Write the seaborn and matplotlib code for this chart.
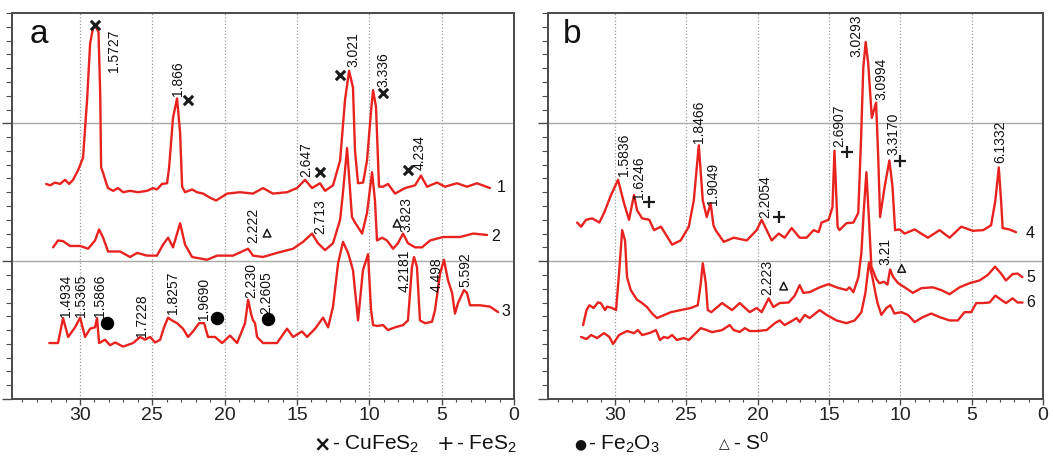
import matplotlib
matplotlib.use("Agg")
import matplotlib.pyplot as plt
import seaborn as sns
from matplotlib.ticker import MultipleLocator, NullFormatter

# ------------------------------------------------------------------ data
# panel a, pattern 1
a1_x = [32.34, 32.07, 31.72, 31.38, 31.03, 30.75, 30.48, 30.13, 29.79, 29.51, 29.3, 29.1,
        28.9, 28.72, 28.6, 28.54, 28.4, 28.2, 28.06, 27.71, 27.37, 27.02, 26.54, 25.99,
        25.37, 24.95, 24.68, 24.33, 23.98, 23.84, 23.57, 23.29, 23.08, 22.94, 22.74, 22.25,
        21.91, 21.49, 21.01, 20.59, 19.83, 18.94, 18.04, 17.35, 16.66, 15.69, 15.0, 14.44,
        13.96, 13.41, 13.06, 12.51, 12.02, 11.68, 11.4, 11.13, 10.99, 10.78, 10.43, 10.16,
        9.88, 9.74, 9.54, 9.33, 9.05, 8.71, 8.22, 7.53, 6.84, 6.43, 6.01, 5.32, 4.77, 3.94,
        3.25, 2.56, 1.66]
a1_y = [15.6, 15.5, 15.7, 15.6, 15.9, 15.6, 15.9, 16.6, 17.5, 21.7, 25.8, 26.9,
        27.0, 26.6, 22.0, 16.8, 16.4, 15.7, 15.3, 15.1, 15.3, 15.0, 15.1, 15.0,
        15.1, 15.3, 15.2, 15.6, 15.65, 16.8, 20.4, 21.8, 19.3, 15.4, 15.0, 15.2,
        15.0, 14.9, 14.6, 14.4, 14.9, 15.0, 14.9, 15.3, 14.9, 15.0, 15.3, 15.9,
        15.3, 15.65, 15.1, 15.5, 17.3, 21.7, 23.8, 22.6, 18.0, 15.65, 15.7, 17.3,
        20.9, 22.4, 21.2, 15.4, 15.4, 15.6, 14.9, 15.3, 15.5, 16.2, 15.4, 15.7, 15.4, 15.65,
        15.4, 15.65, 15.3]

# panel a, pattern 2
a2_x = [31.86, 31.52, 31.17, 30.69, 29.99, 29.44, 28.96, 28.68, 28.4, 28.06, 27.23, 26.54,
        26.05, 25.37, 24.68, 24.26, 23.91, 23.57, 23.29, 23.08, 22.74, 22.25, 21.22, 20.52,
        19.42, 18.38, 18.04, 17.35, 16.38, 15.27, 14.58, 13.96, 13.55, 13.06, 12.51, 12.02,
        11.82, 11.54, 11.2, 10.99, 10.5, 10.16, 9.81, 9.61, 9.47, 9.12, 8.78, 8.36, 8.02,
        7.67, 7.33, 6.84, 6.36, 5.8, 4.91, 3.73, 2.83, 1.86]
a2_y = [11.0, 11.5, 11.45, 11.1, 11.1, 10.9, 11.5, 12.3, 11.7, 10.7, 10.7, 10.3,
        10.6, 10.4, 10.4, 11.2, 11.7, 11.0, 12.0, 12.75, 11.2, 10.3, 10.1, 10.4,
        10.4, 10.9, 10.4, 10.3, 10.6, 10.9, 11.4, 12.0, 11.3, 10.8, 11.3, 13.0,
        15.0, 18.2, 13.2, 12.8, 12.0, 13.5, 16.45, 14.4, 11.5, 11.7, 11.5, 10.9, 11.3,
        12.0, 11.3, 11.0, 11.0, 11.5, 11.75, 11.75, 12.0, 11.9]

# panel a, pattern 3
a3_x = [32.12, 31.52, 31.17, 30.82, 30.34, 29.99, 29.65, 29.3, 28.96, 28.82, 28.68, 28.27,
        27.92, 27.57, 27.02, 26.33, 25.84, 25.5, 25.15, 24.81, 24.46, 24.19, 23.91, 23.64,
        23.29, 22.88, 22.53, 22.19, 21.77, 21.42, 21.15, 20.66, 20.18, 19.63, 19.14, 18.59,
        18.38, 18.18, 18.04, 17.9, 17.76, 17.35, 16.38, 15.69, 15.27, 14.65, 14.31, 13.75,
        13.2, 12.85, 12.51, 12.16, 11.82, 11.47, 11.13, 10.78, 10.44, 10.09, 9.88, 9.74,
        9.47, 9.05, 8.71, 8.22, 7.67, 7.33, 7.05, 6.91, 6.71, 6.5, 6.15, 5.67, 5.46, 5.11,
        4.84, 4.56, 4.28, 4.08, 3.87, 3.46, 3.25, 3.04, 2.35, 1.66, 1.1]
a3_y = [4.06, 4.06, 5.87, 4.5, 5.2, 5.9, 4.5, 5.1, 5.2, 5.87, 4.06, 4.3,
        3.9, 4.1, 3.8, 4.06, 4.5, 4.3, 4.5, 4.1, 4.3, 5.2, 5.9, 5.7,
        5.5, 5.1, 4.5, 4.9, 5.5, 5.5, 4.5, 4.5, 4.06, 4.6, 4.06, 5.5,
        7.2, 6.2, 5.7, 5.5, 4.5, 4.06, 4.06, 5.1, 4.5, 4.9, 4.5, 5.1,
        5.9, 5.2, 6.7, 9.85, 11.4, 10.6, 9.35, 5.7, 9.35, 10.5, 6.45, 5.36,
        5.3, 5.36, 5.0, 5.2, 5.36, 5.7, 9.6, 10.3, 9.6, 5.7, 5.5, 5.6, 6.45, 9.1,
        10.1, 8.6, 7.7, 6.2, 6.96, 7.9, 7.7, 6.8, 6.8, 6.7, 6.3]

# panel b, pattern 4
b4_x = [32.66, 32.38, 32.03, 31.6, 31.1, 30.77, 30.28, 29.79, 29.37, 29.02, 28.67, 28.46,
        28.1, 27.6, 27.27, 26.78, 26.0, 25.4, 24.83, 24.48, 24.13, 23.85, 23.57, 23.3,
        23.1, 22.95, 22.38, 21.68, 20.77, 20.07, 19.72, 19.37, 19.02, 18.53, 18.11, 17.62,
        17.06, 16.57, 16.08, 15.73, 15.52, 15.03, 14.76, 14.62, 14.4, 14.27, 13.78, 13.29,
        12.95, 12.75, 12.6, 12.43, 12.25, 12.0, 11.7, 11.55, 11.42, 11.1, 10.77, 10.55,
        10.37, 10.05, 9.7, 9.0, 8.07, 7.25, 6.55, 5.73, 4.92, 4.19, 3.64, 3.34, 3.1, 2.94,
        2.83, 2.36, 1.89]
b4_y = [12.8, 12.5, 13.0, 13.1, 12.8, 13.5, 14.8, 15.9, 14.2, 13.0, 14.8, 13.7,
        13.1, 13.0, 12.25, 12.5, 11.2, 11.5, 12.5, 14.4, 18.4, 14.4, 13.2, 14.2,
        12.6, 12.25, 11.4, 11.7, 11.5, 12.25, 13.0, 12.25, 11.5, 12.0, 11.7, 12.4,
        11.7, 11.7, 12.25, 12.1, 12.8, 13.0, 13.9, 18.0, 12.5, 12.25, 12.75, 12.8,
        13.5, 19.0, 24.0, 25.9, 24.3, 20.4, 21.5, 17.5, 13.2, 15.4, 17.3, 15.4,
        12.25, 12.3, 12.0, 12.3, 11.7, 12.25, 11.7, 12.5, 12.2, 12.25, 12.6, 14.4, 16.8, 14.4,
        12.4, 12.3, 12.1]

# panel b, pattern 5
b5_x = [32.24, 32.0, 31.8, 31.5, 31.2, 31.0, 30.7, 30.56, 30.2, 29.93, 29.72, 29.5,
        29.3, 29.16, 28.9, 28.46, 28.1, 27.76, 27.4, 27.06, 26.08, 25.4, 24.7, 24.2,
        23.99, 23.85, 23.64, 23.5, 23.25, 22.5, 21.8, 21.26, 20.56, 20.07, 19.72, 19.23,
        18.9, 18.46, 17.83, 17.4, 17.06, 16.8, 16.36, 15.66, 15.03, 14.48, 13.78, 13.57,
        13.29, 12.94, 12.73, 12.55, 12.38, 12.2, 12.03, 11.68, 11.47, 11.15, 10.9, 10.72,
        10.5, 10.15, 9.7, 9.12, 8.53, 7.72, 7.13, 6.55, 5.85, 5.15, 4.45, 3.87, 3.36, 2.94,
        2.6, 2.13, 1.78, 1.45]
b5_y = [5.36, 6.45, 6.8, 6.6, 7.0, 6.96, 6.45, 6.7, 6.6, 6.45, 9.1, 12.25,
        11.5, 8.84, 7.9, 7.2, 6.96, 6.67, 6.2, 5.87, 6.3, 6.45, 6.6, 6.8,
        8.4, 9.85, 8.4, 6.45, 6.3, 6.96, 6.45, 6.96, 6.3, 6.6, 6.3, 7.3,
        6.67, 6.96, 7.0, 7.5, 8.26, 7.7, 7.75, 8.1, 8.33, 8.1, 7.9, 8.1,
        7.75, 8.84, 10.6, 13.9, 16.45, 13.0, 9.6, 8.7, 8.4, 8.5, 8.3, 9.4,
        8.84, 8.4, 8.1, 7.7, 8.04, 8.1, 7.9, 7.6, 8.1, 8.4, 8.6, 9.0, 9.6, 9.1,
        8.6, 9.06, 9.1, 8.84]

# panel b, pattern 6
b6_x = [32.38, 32.0, 31.68, 31.26, 30.77, 30.4, 30.14, 29.72, 29.16, 28.67, 28.4, 28.1,
        27.6, 27.13, 26.85, 26.57, 26.3, 26.0, 25.66, 25.17, 24.83, 24.34, 23.99, 23.57,
        23.2, 22.5, 21.96, 21.68, 21.26, 20.9, 20.56, 20.07, 19.37, 18.8, 18.46, 18.11,
        17.62, 17.27, 17.06, 16.7, 16.36, 15.66, 15.17, 14.48, 13.78, 13.2, 12.73, 12.45,
        12.2, 11.96, 11.75, 11.6, 11.33, 10.98, 10.7, 10.42, 9.93, 9.47, 9.0, 8.42, 7.83,
        7.25, 6.55, 5.97, 5.5, 5.03, 4.68, 4.22, 3.75, 3.34, 2.94, 2.59, 2.13, 1.78, 1.43]
b6_y = [4.5, 4.35, 4.64, 4.42, 4.78, 4.5, 3.99, 4.64, 4.93, 4.78, 5.0, 4.64,
        4.78, 5.0, 4.28, 4.5, 4.42, 4.64, 4.28, 4.42, 4.28, 4.78, 5.14, 5.0,
        4.85, 5.0, 5.36, 5.0, 4.86, 5.14, 4.93, 4.93, 5.0, 5.5, 5.7, 5.36,
        5.65, 5.87, 5.58, 6.1, 5.87, 6.45, 6.1, 5.7, 5.5, 5.7, 6.3, 7.7,
        9.9, 8.84, 7.7, 6.96, 6.1, 6.6, 6.8, 6.2, 6.3, 6.1, 5.58, 5.94, 6.2,
        5.94, 5.7, 5.7, 6.3, 6.3, 6.96, 6.96, 7.0, 7.5, 7.2, 6.96, 7.3, 7.0, 7.0]

# peak annotations (d-spacings)
a_peak_text = ["1.5727", "1.866", "2.647", "3.021", "3.336", "4.234", "2.222", "2.713", "3.823",
               "1.4934", "1.5365", "1.5866", "1.7228", "1.8257", "1.9690", "2.230", "2.2605",
               "4.2181", "4.498", "5.592"]
a_peak_x = [27.65, 23.2, 14.33, 11.1, 9.03, 6.5, 18.0, 13.4, 7.42,
            31.0, 29.9, 28.6, 25.7, 23.55, 21.45, 18.13, 17.1, 7.53, 5.34, 3.39]
a_peak_y = [23.7, 22.0, 16.1, 24.06, 22.6, 16.6, 11.3, 12.0, 12.1,
            5.94, 5.94, 5.94, 4.5, 6.2, 5.7, 7.3, 6.2, 7.75, 7.75, 8.1]

b_peak_text = ["1.5836", "1.6246", "1.8466", "1.9049", "2.2054", "2.6907", "3.0293", "3.0994",
               "3.3170", "6.1332", "2.223", "3.21"]
b_peak_x = [29.37, 28.3, 24.08, 23.1, 19.5, 14.3, 13.05, 11.3, 10.5, 3.0, 19.35, 11.07]
b_peak_y = [16.2, 14.5, 18.6, 14.1, 13.1, 18.26, 24.8, 21.7, 17.7, 17.1, 7.54, 9.7]

# phase markers
a_cufes2_x = [28.96, 22.53, 13.41, 12.02, 9.05, 7.32]
a_cufes2_y = [27.1, 21.67, 16.45, 23.48, 22.17, 16.6]
a_s0_x = [17.07, 8.09]
a_s0_y = [12.03, 12.75]
a_fe2o3_x = [28.15, 20.55, 16.98]
a_fe2o3_y = [5.53, 5.9, 5.78]
b_fes2_x = [27.65, 18.53, 13.76, 10.02]
b_fes2_y = [14.3, 13.2, 17.9, 17.3]
b_s0_x = [18.18, 9.91]
b_s0_y = [8.19, 9.47]

curve_names_a = ["1", "2", "3"]
curve_names_b = ["4", "5", "6"]
x_ticks = [30, 25, 20, 15, 10, 5, 0]

leg_sym = ["\u00d7", "+", "\u25cf", "\u25b3"]
leg_txt = ["- CuFeS$_2$", "- FeS$_2$", "- Fe$_2$O$_3$", "- S$^0$"]

# ------------------------------------------------------------------ style
sns.set_theme(style="white")
plt.rcParams['font.family'] = ['Liberation Sans', 'DejaVu Sans']
plt.rcParams['mathtext.fontset'] = 'custom'
plt.rcParams['mathtext.rm'] = 'Liberation Sans'
plt.rcParams['mathtext.it'] = 'Liberation Sans:italic'
plt.rcParams['mathtext.bf'] = 'Liberation Sans:bold'
plt.rcParams['mathtext.default'] = 'rm'

RED = '#e8231f'
FRAME = '#4a4a4a'

fig = plt.figure(figsize=(10.53, 4.67), dpi=100)
axA = fig.add_axes([12 / 1053, 1 - 399 / 467, 502 / 1053, 386 / 467])
axB = fig.add_axes([548 / 1053, 1 - 399 / 467, 495 / 1053, 386 / 467])


def style(ax):
    ax.set_xlim(34.7, 0)
    ax.set_ylim(0, 28)
    ax.set_xticks(x_ticks)
    ax.set_xticklabels([str(t) for t in x_ticks])
    ax.xaxis.set_minor_locator(MultipleLocator(1))
    ax.yaxis.set_major_locator(MultipleLocator(10))
    ax.yaxis.set_minor_locator(MultipleLocator(1))
    ax.yaxis.set_major_formatter(NullFormatter())
    ax.tick_params(axis='x', which='major', direction='out', length=4.5, width=1,
                   color=FRAME, labelsize=14, pad=1.5, labelcolor='#222222',
                   bottom=True, top=False)
    ax.tick_params(axis='x', which='minor', direction='out', length=2.5, width=0.8,
                   color=FRAME, bottom=True, top=False)
    ax.tick_params(axis='y', which='major', direction='out', length=7, width=1,
                   color=FRAME, left=True, right=False)
    ax.tick_params(axis='y', which='minor', direction='out', length=4, width=0.8,
                   color=FRAME, left=True, right=False)
    for xv in x_ticks[:-1]:
        ax.axvline(xv, color='#9a9a9a', ls=':', lw=0.9, zorder=0)
    for yv in (10, 20):
        ax.axhline(yv, color='#a8a8a8', lw=1.0, zorder=0)
    for s in ax.spines.values():
        s.set_color(FRAME)
        s.set_linewidth(1.4)
    ax.set_xlabel("")
    ax.set_ylabel("")


def curve(ax, xs, ys):
    sns.lineplot(x=xs, y=ys, ax=ax, color=RED, lw=1.7, sort=False,
                 estimator=None, zorder=3)


curve(axA, a1_x, a1_y)
curve(axA, a2_x, a2_y)
curve(axA, a3_x, a3_y)
curve(axB, b4_x, b4_y)
curve(axB, b5_x, b5_y)
curve(axB, b6_x, b6_y)

for ax in (axA, axB):
    style(ax)

# peak labels
for t, x, y in zip(a_peak_text, a_peak_x, a_peak_y):
    axA.text(x, y, t, rotation=90, ha='center', va='bottom', fontsize=10,
             color='#111111', zorder=5)
for t, x, y in zip(b_peak_text, b_peak_x, b_peak_y):
    axB.text(x, y, t, rotation=90, ha='center', va='bottom', fontsize=10,
             color='#111111', zorder=5)

# markers
axA.scatter(a_cufes2_x, a_cufes2_y, marker='x', s=45, linewidths=2.2,
            color='#1a1a1a', zorder=6)
axA.scatter(a_s0_x, a_s0_y, marker='^', s=30, facecolors='none',
            edgecolors='#1a1a1a', linewidths=1.1, zorder=6)
axA.scatter(a_fe2o3_x, a_fe2o3_y, marker='o', s=75, color='#000000', zorder=6)
axB.scatter(b_fes2_x, b_fes2_y, marker='+', s=75, linewidths=1.6,
            color='#1a1a1a', zorder=6)
axB.scatter(b_s0_x, b_s0_y, marker='^', s=30, facecolors='none',
            edgecolors='#1a1a1a', linewidths=1.1, zorder=6)

# curve numbers
for name, xv, yv in zip(curve_names_a, [0.9, 1.24, 0.55], [15.36, 11.8, 6.38]):
    axA.text(xv, yv, name, ha='center', va='center', fontsize=11.5, color='#111111')
for name, xv, yv in zip(curve_names_b, [0.9, 0.84, 0.84], [12.0, 8.84, 7.03]):
    axB.text(xv, yv, name, ha='center', va='center', fontsize=11.5, color='#111111')

# panel letters
axA.text(0.036, 0.922, "a", transform=axA.transAxes, fontsize=24, color='#111111',
         ha='left', va='baseline')
axB.text(0.030, 0.922, "b", transform=axB.transAxes, fontsize=24, color='#111111',
         ha='left', va='baseline')

# legend line at the bottom
leg_sym_x = [322, 446, 580, 724]
leg_txt_x = [332, 456, 588, 733]
sym_size = [15, 15, 10, 10]
sym_weight = ['bold', 'normal', 'normal', 'normal']
for s, sx, fs, fw in zip(leg_sym, leg_sym_x, sym_size, sym_weight):
    fig.text(sx / 1053, 1 - 444 / 467, s, ha='center', va='center', fontsize=fs,
             fontweight=fw, family=['DejaVu Sans'], color='#111111')
for t, tx in zip(leg_txt, leg_txt_x):
    fig.text(tx / 1053, 1 - 450 / 467, t, ha='left', va='baseline', fontsize=15,
             color='#111111')

fig.savefig("out.png", dpi=100)
